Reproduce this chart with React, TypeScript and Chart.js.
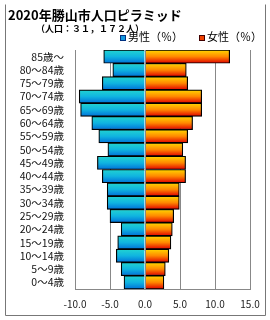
import React, { useEffect, useRef } from "react";
import { Chart, registerables } from "chart.js";

Chart.register(...registerables);

const TITLE = "2020年勝山市人口ピラミッド";
const SUBTITLE = "（人口：３１，１７２人）";
const MALE_LABEL = "男性（％）";
const FEMALE_LABEL = "女性（％）";

const ageGroups = [
  "85歳～", "80～84歳", "75～79歳", "70～74歳", "65～69歳", "60～64歳",
  "55～59歳", "50～54歳", "45～49歳", "40～44歳", "35～39歳", "30～34歳",
  "25～29歳", "20～24歳", "15～19歳", "10～14歳", "5～9歳", "0～4歳",
];
const malePct = [5.9, 4.6, 6.1, 9.4, 9.2, 7.6, 6.6, 5.3, 6.8, 6.1, 5.4, 5.4, 5.0, 3.4, 3.9, 4.1, 3.4, 3.0];
const femalePct = [12.1, 5.9, 6.1, 8.1, 8.1, 6.8, 6.1, 5.4, 5.8, 5.8, 4.9, 4.9, 4.1, 3.9, 3.7, 3.4, 2.9, 2.7];
const xMin = -10;
const xMax = 15;
const xStep = 5;

const FONT = '"Noto Sans CJK JP", "Noto Sans", sans-serif';
const maleStops = ["#22d4d0", "#10b4e0", "#0070d8"];
const femaleStops = ["#ffd800", "#ff8800", "#e00000"];

function gradientFill(stops: string[]) {
  return (ctx: any) => {
    const chart = ctx.chart;
    const ys = chart.scales && chart.scales.y;
    if (!ys || ctx.type !== "data") return stops[1];
    const c = ys.getPixelForValue(ctx.dataIndex);
    const h = ys.height / ageGroups.length / 2;
    if (!isFinite(c) || !isFinite(h) || h <= 0) return stops[1];
    const g = chart.ctx.createLinearGradient(0, c - h, 0, c + h);
    g.addColorStop(0, stops[0]);
    g.addColorStop(0.5, stops[1]);
    g.addColorStop(1, stops[2]);
    return g;
  };
}

const decorPlugin = {
  id: "decor",
  afterDatasetsDraw(chart: any) {
    const { ctx, chartArea, scales } = chart;
    const x0 = Math.round(scales.x.getPixelForValue(0)) + 0.5;
    ctx.save();
    ctx.strokeStyle = "#888";
    ctx.lineWidth = 1;
    ctx.beginPath();
    ctx.moveTo(x0, chartArea.top);
    ctx.lineTo(x0, chartArea.bottom);
    ctx.stroke();
    ctx.restore();
  },
  afterDraw(chart: any) {
    const ctx = chart.ctx;
    ctx.save();
    // outer frame
    ctx.strokeStyle = "#777";
    ctx.lineWidth = 1;
    ctx.beginPath();
    ctx.moveTo(5.5, 4.5);
    ctx.lineTo(5.5, 315.5);
    ctx.lineTo(265.5, 315.5);
    ctx.lineTo(265.5, 4.5);
    ctx.stroke();
    // title
    ctx.fillStyle = "#000";
    ctx.textBaseline = "middle";
    ctx.textAlign = "left";
    ctx.font = `bold 13px ${FONT}`;
    ctx.fillText(TITLE, 8, 15);
    ctx.font = `bold 9px ${FONT}`;
    ctx.fillText(SUBTITLE, 36, 28.5);
    // legend
    ctx.font = `11px ${FONT}`;
    ctx.fillStyle = "#1098e0";
    ctx.fillRect(120, 35, 6, 6);
    ctx.strokeStyle = "#003080";
    ctx.strokeRect(120.5, 35.5, 5, 5);
    ctx.fillStyle = "#000";
    ctx.fillText(MALE_LABEL, 128, 36.5);
    ctx.fillStyle = "#f04000";
    ctx.fillRect(199, 35, 6, 6);
    ctx.strokeStyle = "#400000";
    ctx.strokeRect(199.5, 35.5, 5, 5);
    ctx.fillStyle = "#000";
    ctx.fillText(FEMALE_LABEL, 207, 36.5);
    ctx.restore();
  },
};

export default function App() {
  const ref = useRef<HTMLCanvasElement>(null);
  useEffect(() => {
    document.body.style.margin = "0";
    const chart = new Chart(ref.current!, {
      type: "bar",
      data: {
        labels: ageGroups,
        datasets: [
          {
            label: MALE_LABEL,
            data: malePct.map((v) => -v),
            backgroundColor: gradientFill(maleStops) as any,
            borderColor: "#000",
            borderWidth: 1.2,
            barPercentage: 1,
            categoryPercentage: 1,
          },
          {
            label: FEMALE_LABEL,
            data: femalePct,
            backgroundColor: gradientFill(femaleStops) as any,
            borderColor: "#000",
            borderWidth: 1.2,
            barPercentage: 1,
            categoryPercentage: 1,
          },
        ],
      },
      options: {
        indexAxis: "y",
        responsive: false,
        animation: false,
        layout: { padding: { top: 50, right: 20, left: 0, bottom: 0 } },
        plugins: { legend: { display: false }, title: { display: false }, tooltip: { enabled: false } },
        scales: {
          x: {
            stacked: true,
            min: xMin,
            max: xMax,
            ticks: {
              stepSize: xStep,
              padding: 9,
              color: "#222",
              font: { family: FONT, size: 10 },
              callback: (v: any) => Number(v).toFixed(1),
            },
            grid: { color: "#888", lineWidth: 1, drawTicks: false },
            border: { color: "#888" },
            afterFit: (s: any) => { s.height = 31; },
          },
          y: {
            stacked: true,
            ticks: { padding: 11, color: "#111", font: { family: FONT, size: 10.5 }, autoSkip: false },
            grid: { display: false, drawTicks: false },
            border: { display: true, color: "#888" },
            afterFit: (s: any) => { s.width = 75; },
          },
        },
      },
      plugins: [decorPlugin],
    });
    return () => chart.destroy();
  }, []);
  return (
    <div style={{ width: 270, height: 320 }}>
      <canvas ref={ref} width={270} height={320} style={{ display: "block" }} />
    </div>
  );
}
